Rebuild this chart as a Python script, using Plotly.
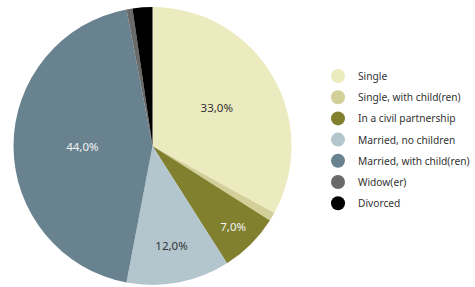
import plotly.graph_objects as go

categories = ["Single", "Single, with child(ren)", "In a civil partnership",
              "Married, no children", "Married, with child(ren)", "Widow(er)", "Divorced"]
values = [33.0, 1.0, 7.0, 12.0, 44.0, 0.7, 2.3]
colors = ["#ECEBBF", "#D3CF98", "#80802F", "#B3C5CD", "#68838F", "#6A6A6A", "#000000"]
label_colors = ["#333333", "#333333", "#F2F2F2", "#333333", "#F2F2F2", "#333333", "#333333"]

W, H = 475, 287

texts = [(f"{v:.1f}%".replace(".", ",") if v >= 5 else "") for v in values]

fig = go.Figure()
fig.add_trace(go.Pie(
    labels=categories, values=values, sort=False, direction="clockwise", rotation=0,
    marker=dict(colors=colors, line=dict(width=0)),
    text=texts, textinfo="text", textposition="inside",
    insidetextfont=dict(family="Noto Sans", size=11.5, color=label_colors),
    insidetextorientation="horizontal",
    showlegend=False, hoverinfo="label+percent",
    domain=dict(x=[13 / W, 292 / W], y=[2 / H, 1 - 7 / H]),
))

for i, (c, col) in enumerate(zip(categories, colors)):
    fig.add_trace(go.Scatter(
        x=[None], y=[None], mode="markers", name=c,
        marker=dict(symbol="circle", size=14, color=col),
        legendgroup=f"g{i}", showlegend=True,
    ))

fig.update_layout(
    width=W, height=H, margin=dict(l=0, r=0, t=0, b=0, autoexpand=False),
    paper_bgcolor="white", plot_bgcolor="white",
    xaxis=dict(visible=False), yaxis=dict(visible=False),
    legend=dict(x=318 / W, xanchor="left", y=1 - 61.5 / H, yanchor="top",
                font=dict(family="Noto Sans", size=10.2, color="#333333"),
                tracegroupgap=2.2, itemsizing="trace", bgcolor="rgba(0,0,0,0)"),
)

fig.write_html("out.html", config={"displayModeBar": False},
               post_script="document.body.style.margin='0';")
